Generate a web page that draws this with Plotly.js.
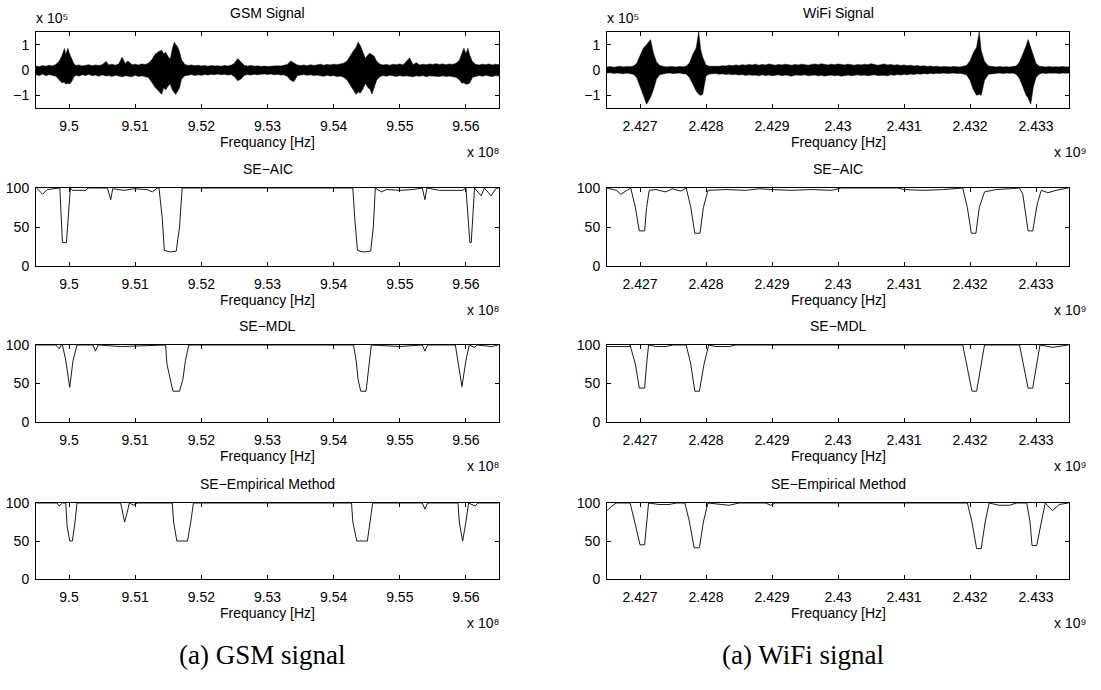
<!DOCTYPE html>
<html>
<head>
<meta charset="utf-8">
<script src="https://cdn.plot.ly/plotly-3.0.1.min.js"></script>
<style>html,body{margin:0;padding:0;background:#fff;}#chart{width:1101px;height:690px;}</style>
</head>
<body>
<div id="chart"></div>
<script>
// ---------------- DATA (frequencies in units of 1e8 Hz for GSM, 1e9 Hz for WiFi) ----------------
const gsmTickVals = [9.5, 9.51, 9.52, 9.53, 9.54, 9.55, 9.56];
const gsmTickText = ["9.5", "9.51", "9.52", "9.53", "9.54", "9.55", "9.56"];
const wifiTickVals = [2.427, 2.428, 2.429, 2.430, 2.431, 2.432, 2.433];
const wifiTickText = ["2.427", "2.428", "2.429", "2.43", "2.431", "2.432", "2.433"];
const sigTickVals = [-1, 0, 1];
const seTickVals = [0, 50, 100];
const expLabels = ["x 10\u2078", "x 10\u2079"];
const sigExpLabel = "x 10\u2075";

// GSM time-signal envelope (x 1e5)
const gsmFreq = [9.4950,9.4955,9.4960,9.4965,9.4970,9.4975,9.4980,9.4985,9.4989,9.4993,9.4995,9.4998,9.5001,9.5004,9.5007,9.5010,9.5015,9.5020,9.5025,9.5030,9.5035,9.5040,9.5045,9.5050,9.5056,9.5060,9.5065,9.5070,9.5075,9.5080,9.5085,9.5089,9.5095,9.5100,9.5105,9.5110,9.5115,9.5120,9.5125,9.5130,9.5135,9.5140,9.5143,9.5146,9.5150,9.5153,9.5156,9.5159,9.5161,9.5164,9.5167,9.5170,9.5175,9.5180,9.5185,9.5190,9.5195,9.5200,9.5205,9.5210,9.5215,9.5220,9.5225,9.5230,9.5235,9.5240,9.5245,9.5250,9.5255,9.5260,9.5265,9.5270,9.5275,9.5280,9.5285,9.5290,9.5295,9.5300,9.5305,9.5310,9.5315,9.5320,9.5325,9.5330,9.5335,9.5340,9.5345,9.5350,9.5355,9.5360,9.5365,9.5370,9.5375,9.5380,9.5385,9.5390,9.5395,9.5400,9.5405,9.5410,9.5415,9.5420,9.5425,9.5430,9.5434,9.5437,9.5440,9.5444,9.5448,9.5452,9.5455,9.5458,9.5461,9.5465,9.5470,9.5475,9.5480,9.5485,9.5490,9.5495,9.5500,9.5505,9.5510,9.5515,9.5520,9.5525,9.5530,9.5535,9.5540,9.5545,9.5550,9.5555,9.5560,9.5565,9.5570,9.5575,9.5580,9.5585,9.5590,9.5594,9.5597,9.5600,9.5603,9.5606,9.5610,9.5615,9.5620,9.5625,9.5630,9.5635,9.5640,9.5645,9.5650];
const gsmUpper = [.16,.13,.18,.15,.19,.16,.22,.35,.55,.85,.60,.86,.62,.45,.27,.18,.20,.16,.19,.21,.17,.20,.18,.21,.34,.20,.23,.19,.24,.50,.26,.36,.21,.23,.20,.24,.22,.27,.40,.62,.72,.78,.64,.70,.52,.42,.82,1.10,1.02,.92,.72,.40,.22,.18,.20,.17,.19,.16,.18,.15,.18,.16,.17,.15,.18,.16,.19,.27,.45,.30,.18,.16,.18,.15,.17,.14,.16,.14,.16,.15,.17,.16,.19,.22,.36,.27,.20,.18,.20,.17,.21,.18,.20,.23,.19,.22,.20,.23,.21,.24,.27,.35,.58,.76,.90,1.10,.98,.72,.46,.60,.66,.60,.55,.35,.23,.20,.22,.19,.23,.21,.24,.20,.34,.48,.21,.29,.20,.23,.21,.24,.22,.25,.22,.24,.21,.24,.22,.27,.38,.62,.86,.64,.86,.56,.33,.22,.20,.23,.21,.24,.20,.23,.21];
const gsmLower = [-.19,-.22,-.16,-.23,-.18,-.21,-.25,-.38,-.50,-.48,-.56,-.52,-.55,-.45,-.29,-.21,-.24,-.19,-.22,-.17,-.23,-.20,-.25,-.19,-.24,-.22,-.26,-.21,-.24,-.27,-.23,-.25,-.27,-.21,-.26,-.23,-.28,-.30,-.48,-.68,-.82,-.96,-.70,-.78,-.62,-.55,-.78,-.92,-.96,-.85,-.70,-.36,-.23,-.21,-.18,-.22,-.19,-.21,-.18,-.20,-.17,-.19,-.16,-.19,-.17,-.20,-.18,-.27,-.42,-.36,-.21,-.18,-.20,-.17,-.19,-.17,-.16,-.18,-.16,-.19,-.17,-.20,-.19,-.25,-.40,-.46,-.23,-.20,-.18,-.21,-.19,-.22,-.20,-.23,-.25,-.21,-.24,-.22,-.26,-.24,-.29,-.38,-.58,-.80,-.96,-.86,-.92,-.76,-.52,-.70,-.76,-.95,-.72,-.40,-.26,-.22,-.25,-.21,-.23,-.26,-.22,-.25,-.23,-.24,-.27,-.23,-.25,-.22,-.27,-.23,-.25,-.24,-.26,-.23,-.26,-.24,-.27,-.29,-.38,-.52,-.50,-.56,-.55,-.50,-.29,-.25,-.22,-.25,-.21,-.24,-.26,-.22,-.24];

// WiFi time-signal envelope (x 1e5)
const wifiFreq = [2.42650,2.42655,2.42660,2.42665,2.42670,2.42675,2.42680,2.42685,2.42690,2.42695,2.42700,2.42705,2.42710,2.42713,2.42716,2.42720,2.42725,2.42730,2.42735,2.42740,2.42745,2.42750,2.42755,2.42760,2.42765,2.42770,2.42775,2.42780,2.42785,2.42789,2.42792,2.42795,2.42800,2.42805,2.42810,2.42815,2.42820,2.42825,2.42830,2.42835,2.42840,2.42845,2.42850,2.42855,2.42860,2.42865,2.42870,2.42875,2.42880,2.42885,2.42890,2.42895,2.42900,2.42905,2.42910,2.42915,2.42920,2.42925,2.42930,2.42935,2.42940,2.42945,2.42950,2.42955,2.42960,2.42965,2.42970,2.42975,2.42980,2.42985,2.42990,2.42995,2.43000,2.43005,2.43010,2.43015,2.43020,2.43025,2.43030,2.43035,2.43040,2.43045,2.43050,2.43055,2.43060,2.43065,2.43070,2.43075,2.43080,2.43085,2.43090,2.43095,2.43100,2.43105,2.43110,2.43115,2.43120,2.43125,2.43130,2.43135,2.43140,2.43145,2.43150,2.43155,2.43160,2.43165,2.43170,2.43175,2.43180,2.43185,2.43190,2.43195,2.43200,2.43205,2.43210,2.43214,2.43217,2.43222,2.43228,2.43235,2.43240,2.43245,2.43250,2.43255,2.43260,2.43265,2.43270,2.43275,2.43280,2.43285,2.43288,2.43292,2.43296,2.43300,2.43305,2.43310,2.43315,2.43320,2.43325,2.43330,2.43335,2.43340,2.43345,2.43350];
const wifiUpper = [.12,.14,.11,.13,.15,.12,.14,.13,.16,.26,.55,.86,1.00,1.10,1.20,.70,.32,.18,.14,.12,.14,.13,.12,.14,.13,.15,.28,.62,.86,1.50,.80,.50,.20,.15,.14,.16,.15,.17,.16,.19,.17,.20,.18,.21,.19,.22,.20,.23,.19,.22,.20,.24,.21,.19,.22,.20,.23,.21,.19,.22,.20,.23,.21,.19,.22,.24,.21,.25,.22,.20,.23,.21,.24,.22,.20,.23,.21,.19,.22,.20,.23,.21,.25,.22,.19,.21,.24,.20,.22,.19,.21,.18,.20,.17,.19,.16,.18,.15,.17,.14,.16,.13,.15,.12,.14,.13,.12,.14,.13,.12,.15,.19,.36,.68,.90,1.50,.76,.34,.16,.13,.12,.14,.12,.13,.12,.14,.16,.32,.62,.95,1.20,.90,.56,.26,.15,.13,.12,.14,.12,.13,.12,.14,.12,.13];
const wifiLower = [-.12,-.11,-.14,-.12,-.13,-.15,-.12,-.14,-.17,-.30,-.62,-1.00,-1.35,-1.20,-1.08,-.80,-.36,-.19,-.15,-.13,-.12,-.14,-.13,-.12,-.15,-.16,-.30,-.58,-.82,-.96,-1.00,-.96,-.24,-.16,-.15,-.14,-.17,-.15,-.18,-.16,-.19,-.17,-.20,-.18,-.22,-.19,-.21,-.20,-.23,-.19,-.22,-.20,-.23,-.21,-.19,-.23,-.20,-.22,-.25,-.20,-.22,-.21,-.19,-.23,-.21,-.20,-.23,-.21,-.24,-.22,-.20,-.23,-.21,-.25,-.22,-.20,-.23,-.21,-.19,-.22,-.20,-.23,-.21,-.19,-.22,-.20,-.21,-.23,-.19,-.21,-.18,-.20,-.17,-.19,-.16,-.18,-.15,-.17,-.14,-.16,-.13,-.15,-.13,-.14,-.12,-.14,-.13,-.12,-.14,-.13,-.16,-.20,-.40,-.78,-1.00,-.96,-1.00,-.40,-.17,-.14,-.13,-.12,-.14,-.12,-.13,-.12,-.17,-.34,-.66,-1.00,-1.10,-1.35,-.66,-.30,-.16,-.12,-.14,-.12,-.13,-.12,-.14,-.12,-.13,-.12];

// Spectrum-sensing detection curves (%)
const gsmAicFreq = [9.4951,9.4960,9.4967,9.4977,9.4986,9.4990,9.4996,9.5002,9.5005,9.5025,9.5029,9.5058,9.5063,9.5066,9.5083,9.5098,9.5118,9.5126,9.5133,9.5136,9.5141,9.5144,9.5153,9.5162,9.5167,9.5171,9.5429,9.5432,9.5436,9.5445,9.5456,9.5460,9.5463,9.5472,9.5480,9.5500,9.5520,9.5534,9.5538,9.5541,9.5560,9.5595,9.5600,9.5606,9.5608,9.5613,9.5623,9.5628,9.5638,9.5646,9.5649];
const gsmAicVal  = [100,92,98,99,100,30,30,100,97,97,100,100,85,99,97,99,98,95,100,100,60,20,18,19,50,100,100,60,20,18,19,50,100,95,98,97,98,100,85,100,97,97,100,30,30,100,90,100,90,100,99];
const gsmMdlFreq = [9.4951,9.4980,9.4985,9.4988,9.4990,9.4995,9.5001,9.5006,9.5012,9.5036,9.5040,9.5044,9.5078,9.5146,9.5148,9.5153,9.5157,9.5167,9.5172,9.5176,9.5181,9.5430,9.5434,9.5437,9.5441,9.5449,9.5451,9.5454,9.5457,9.5500,9.5534,9.5538,9.5542,9.5584,9.5588,9.5594,9.5600,9.5605,9.5613,9.5617,9.5639,9.5649];
const gsmMdlVal  = [100,100,95,100,100,80,45,80,100,100,92,100,98,100,75,55,40,40,55,80,100,100,80,55,40,40,55,80,100,98,100,92,100,100,80,46,80,100,97,100,98,100];
const gsmEmpFreq = [9.4951,9.4982,9.4985,9.4990,9.4995,9.4997,9.5001,9.5005,9.5009,9.5012,9.5078,9.5081,9.5084,9.5088,9.5091,9.5098,9.5103,9.5156,9.5158,9.5163,9.5179,9.5184,9.5188,9.5427,9.5429,9.5435,9.5451,9.5455,9.5459,9.5534,9.5538,9.5542,9.5588,9.5590,9.5595,9.5600,9.5604,9.5614,9.5618,9.5649];
const gsmEmpVal  = [100,100,96,100,100,70,50,50,75,100,100,88,75,88,100,97,100,100,75,50,50,75,100,100,75,50,50,75,100,100,92,100,100,75,50,75,100,96,100,100];

const wifiAicFreq = [2.42650,2.42664,2.42671,2.42684,2.42686,2.42693,2.42699,2.42707,2.42710,2.42714,2.42724,2.42739,2.42749,2.42762,2.42770,2.42777,2.42783,2.42791,2.42796,2.42803,2.42830,2.42860,2.42880,2.42900,2.42930,2.42960,2.42990,2.43005,2.43090,2.43100,2.43130,2.43160,2.43189,2.43196,2.43202,2.43209,2.43214,2.43222,2.43239,2.43260,2.43270,2.43275,2.43280,2.43288,2.43295,2.43302,2.43308,2.43318,2.43335,2.43349];
const wifiAicVal  = [100,97,92,98,100,75,45,45,75,97,98,95,99,96,100,75,42,42,75,97,98,97,99,98,97,98,97,100,100,98,97,98,100,75,42,42,75,95,98,99,100,100,92,45,45,80,97,94,98,100];
const wifiMdlFreq = [2.42650,2.42684,2.42685,2.42693,2.42699,2.42707,2.42710,2.42713,2.42724,2.42739,2.42750,2.42770,2.42777,2.42783,2.42790,2.42797,2.42804,2.42815,2.42835,2.42845,2.43189,2.43196,2.43203,2.43210,2.43217,2.43222,2.43275,2.43281,2.43288,2.43295,2.43301,2.43306,2.43325,2.43349];
const wifiMdlVal  = [98,98,100,75,44,44,75,100,98,98,100,100,75,40,40,75,100,98,98,100,100,70,40,40,72,100,100,75,44,44,75,100,97,100];
const wifiEmpFreq = [2.42650,2.42656,2.42664,2.42685,2.42692,2.42700,2.42707,2.42710,2.42713,2.42729,2.42744,2.42755,2.42768,2.42775,2.42782,2.42790,2.42796,2.42803,2.42835,2.42850,2.42890,2.42898,2.42905,2.43196,2.43203,2.43210,2.43217,2.43223,2.43229,2.43244,2.43260,2.43270,2.43286,2.43291,2.43294,2.43301,2.43308,2.43314,2.43325,2.43335,2.43349];
const wifiEmpVal  = [90,95,100,100,75,45,45,75,100,98,98,100,100,75,41,41,75,100,97,100,100,97,100,100,75,40,40,75,100,97,97,100,100,75,44,44,75,100,90,98,100];

const panelTitles = ["GSM Signal", "WiFi Signal", "SE\u2212AIC", "SE\u2212AIC", "SE\u2212MDL", "SE\u2212MDL", "SE\u2212Empirical Method", "SE\u2212Empirical Method"];
const axisTitle = "Frequancy [Hz]";
const captions = ["(a) GSM signal", "(a) WiFi signal"];

// ---------------- LAYOUT ----------------
const W = 1101, H = 690;
const colPx = [[36, 499], [607, 1069]];
const expRightPx = [501, 1088];
const rowPx = [[32, 108], [188, 266], [345, 422], [503, 579]];
const px2x = p => p / W;
const px2y = p => 1 - p / H;

const traces = [];
const layout = {
  width: W, height: H,
  margin: {l: 0, r: 0, t: 0, b: 0},
  paper_bgcolor: 'white', plot_bgcolor: 'white',
  showlegend: false,
  font: {family: 'Liberation Sans, Arial, Helvetica, sans-serif', size: 14, color: '#000'},
  annotations: []
};

function addAxes(idx, row, col) {
  const xa = idx === 1 ? 'xaxis' : 'xaxis' + idx;
  const ya = idx === 1 ? 'yaxis' : 'yaxis' + idx;
  const xs = idx === 1 ? 'x' : 'x' + idx;
  const ys = idx === 1 ? 'y' : 'y' + idx;
  const isGsm = col === 0;
  const common = {
    ticks: 'inside', ticklen: 4, tickwidth: 1, tickcolor: '#000',
    showline: true, linecolor: '#000', linewidth: 1, mirror: 'ticks',
    showgrid: false, zeroline: false, fixedrange: true,
    tickfont: {size: 14, color: '#000'}
  };
  layout[xa] = Object.assign({}, common, {
    domain: [px2x(colPx[col][0]), px2x(colPx[col][1])],
    anchor: ys,
    range: isGsm ? [9.495, 9.565] : [2.4265, 2.4335],
    tickmode: 'array',
    tickvals: isGsm ? gsmTickVals : wifiTickVals,
    ticktext: isGsm ? gsmTickText : wifiTickText,
    ticklabelstandoff: 5
  });
  layout[ya] = Object.assign({}, common, {
    domain: [px2y(rowPx[row][1]), px2y(rowPx[row][0])],
    anchor: xs,
    range: row === 0 ? [-1.5, 1.5] : [0, 100],
    tickmode: 'array',
    tickvals: row === 0 ? sigTickVals : seTickVals,
    ticklabelstandoff: 3
  });
  return [xs, ys];
}

const seSets = [
  [[gsmAicFreq, gsmAicVal], [wifiAicFreq, wifiAicVal]],
  [[gsmMdlFreq, gsmMdlVal], [wifiMdlFreq, wifiMdlVal]],
  [[gsmEmpFreq, gsmEmpVal], [wifiEmpFreq, wifiEmpVal]]
];

let idx = 1;
for (let row = 0; row < 4; row++) {
  for (let col = 0; col < 2; col++) {
    const [xs, ys] = addAxes(idx, row, col);
    if (row === 0) {
      const f = col === 0 ? gsmFreq : wifiFreq;
      const up = col === 0 ? gsmUpper : wifiUpper;
      const lo = col === 0 ? gsmLower : wifiLower;
      traces.push({x: f, y: up, xaxis: xs, yaxis: ys, type: 'scatter', mode: 'lines',
        line: {color: '#000', width: 0.5}, hoverinfo: 'skip'});
      traces.push({x: f, y: lo, xaxis: xs, yaxis: ys, type: 'scatter', mode: 'lines',
        fill: 'tonexty', fillcolor: '#000', line: {color: '#000', width: 0.5}, hoverinfo: 'skip'});
    } else {
      const [f, v] = seSets[row - 1][col];
      traces.push({x: f, y: v, xaxis: xs, yaxis: ys, type: 'scatter', mode: 'lines',
        line: {color: '#000', width: 0.9}, hoverinfo: 'skip'});
    }
    const left = colPx[col][0], right = colPx[col][1];
    const top = rowPx[row][0], bottom = rowPx[row][1];
    layout.annotations.push({text: panelTitles[idx - 1], xref: 'paper', yref: 'paper',
      x: px2x((left + right) / 2), y: px2y(top - 19), xanchor: 'center', yanchor: 'middle',
      showarrow: false, font: {size: 14}});
    layout.annotations.push({text: axisTitle, xref: 'paper', yref: 'paper',
      x: px2x((left + right) / 2), y: px2y(bottom + 34), xanchor: 'center', yanchor: 'middle',
      showarrow: false, font: {size: 14}});
    layout.annotations.push({text: expLabels[col], xref: 'paper', yref: 'paper',
      x: px2x(expRightPx[col]), y: px2y(bottom + 44), xanchor: 'right', yanchor: 'middle',
      showarrow: false, font: {size: 14}});
    if (row === 0) {
      layout.annotations.push({text: sigExpLabel, xref: 'paper', yref: 'paper',
        x: px2x(left - 2), y: px2y(top - 14), xanchor: 'left', yanchor: 'middle',
        showarrow: false, font: {size: 14}});
    }
    idx++;
  }
}

layout.annotations.push({text: captions[0], xref: 'paper', yref: 'paper', x: px2x(262), y: px2y(655),
  xanchor: 'center', yanchor: 'middle', showarrow: false,
  font: {family: 'Liberation Serif, Times New Roman, serif', size: 27}});
layout.annotations.push({text: captions[1], xref: 'paper', yref: 'paper', x: px2x(803), y: px2y(655),
  xanchor: 'center', yanchor: 'middle', showarrow: false,
  font: {family: 'Liberation Serif, Times New Roman, serif', size: 27}});

Plotly.newPlot('chart', traces, layout, {displayModeBar: false, staticPlot: true});
</script>
</body>
</html>
